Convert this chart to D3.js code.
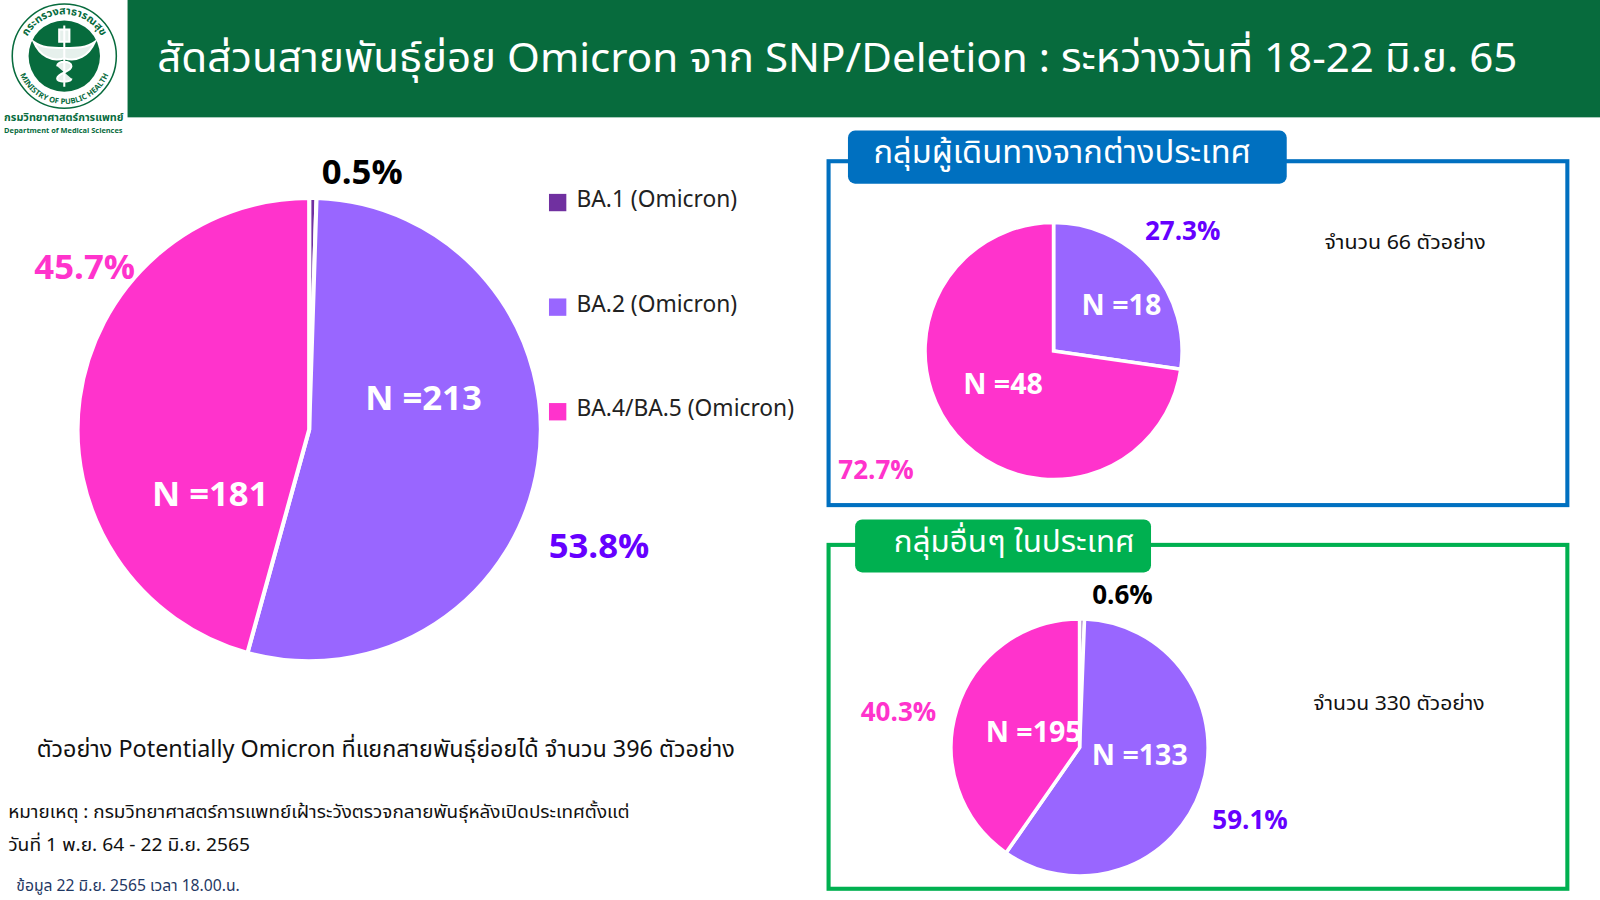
<!DOCTYPE html>
<html>
<head>
<meta charset="utf-8">
<script src="https://cdn.jsdelivr.net/npm/d3@7"></script>
<style>
  html, body { margin: 0; padding: 0; background: #fff; }
  text { font-family: "Noto Sans Thai", "Noto Sans", "DejaVu Sans", "Open Sans", sans-serif; }
</style>
</head>
<body>
<div id="chart"></div>
<script>
var categories = ["BA.1 (Omicron)", "BA.2 (Omicron)", "BA.4/BA.5 (Omicron)"];
var mainValues = [2, 213, 181];
var travelValues = [0, 18, 48];
var localValues = [2, 195, 133];

var mainPercent = ["0.5%", "53.8%", "45.7%"];
var travelPercent = ["27.3%", "72.7%"];
var localPercent = ["0.6%", "59.1%", "40.3%"];

var mainCounts = ["N =213", "N =181"];
var travelCounts = ["N =18", "N =48"];
var localCounts = ["N =133", "N =195"];

var titleText = "สัดส่วนสายพันธุ์ย่อย Omicron จาก SNP/Deletion : ระหว่างวันที่ 18-22 มิ.ย. 65";
var travelTitle = "กลุ่มผู้เดินทางจากต่างประเทศ";
var localTitle = "กลุ่มอื่นๆ ในประเทศ";
var travelNote = "จำนวน 66 ตัวอย่าง";
var localNote = "จำนวน 330 ตัวอย่าง";
var sampleNote = "ตัวอย่าง Potentially Omicron ที่แยกสายพันธุ์ย่อยได้ จำนวน 396 ตัวอย่าง";
var remark1 = "หมายเหตุ :  กรมวิทยาศาสตร์การแพทย์เฝ้าระวังตรวจกลายพันธุ์หลังเปิดประเทศตั้งแต่";
var remark2 = "วันที่ 1 พ.ย. 64 -  22 มิ.ย. 2565";
var dataDate = "ข้อมูล 22 มิ.ย. 2565 เวลา 18.00.น.";

var color = d3.scaleOrdinal().domain(categories).range(["#7030a0", "#9966ff", "#ff33cc"]);
var PINK = "#ff33cc", VIOLET = "#6600ff", GREEN = "#076b3d";

var svg = d3.select("#chart").append("svg")
  .attr("width", 1600)
  .attr("height", 900)
  .attr("viewBox", "0 0 1568 882")
  .style("display", "block");

function label(x, y, str, size, fill, weight, anchor) {
  return svg.append("text")
    .attr("x", x).attr("y", y)
    .attr("font-size", size)
    .attr("fill", fill)
    .attr("font-weight", weight || "normal")
    .attr("text-anchor", anchor || "start")
    .text(str);
}

// stretch a line of text to the width it has in the picture
function fit(sel, width) {
  return sel.attr("textLength", width).attr("lengthAdjust", "spacingAndGlyphs");
}

function drawPie(values, cx, cy, r, strokeW) {
  var pie = d3.pie().sort(null)
    .value(function(d) { return d.value; });
  var arc = d3.arc().innerRadius(0).outerRadius(r);
  var rows = categories.map(function(c, i) { return { name: c, value: values[i] }; });

  svg.append("g")
    .attr("transform", "translate(" + cx + "," + cy + ")")
    .selectAll("path")
    .data(pie(rows))
    .join("path")
    .attr("d", arc)
    .attr("fill", function(d) { return color(d.data.name); })
    .attr("stroke", "#fff")
    .attr("stroke-width", strokeW);
}

// header
svg.append("rect").attr("x", 125).attr("y", 0).attr("width", 1443).attr("height", 115).attr("fill", GREEN);
fit(label(154, 71, titleText, 39.5, "#fff"), 1333);

// logo
var logo = svg.append("g").attr("transform", "translate(63,55)");
logo.append("circle").attr("r", 51).attr("fill", "#fff").attr("stroke", GREEN).attr("stroke-width", 1.5);
logo.append("circle").attr("r", 35).attr("fill", GREEN);
logo.append("path").attr("id", "logoTop").attr("d", "M-41,0A41,41 0 0 1 41,0").attr("fill", "none");
logo.append("path").attr("id", "logoBottom").attr("d", "M-47,0A47,47 0 0 0 47,0").attr("fill", "none");
logo.append("text").attr("font-size", 10.5).attr("font-weight", "bold").attr("fill", GREEN)
  .append("textPath").attr("href", "#logoTop").attr("startOffset", "50%").attr("text-anchor", "middle")
  .text("กระทรวงสาธารณสุข");
logo.append("text").attr("font-size", 7.5).attr("font-weight", "bold").attr("fill", GREEN)
  .append("textPath").attr("href", "#logoBottom").attr("startOffset", "50%").attr("text-anchor", "middle")
  .text("MINISTRY OF PUBLIC HEALTH");
logo.append("path")
  .attr("d", "M0,-30V30M-30,-14C-24,0 -12,6 0,2C12,6 24,0 30,-14C22,-8 12,-8 0,-8C-12,-8 -22,-8 -30,-14ZM-7,10C-7,4 7,4 7,10C7,16 -7,16 -7,22C-7,26 7,26 7,22M-5,-26H5V-14H-5Z")
  .attr("fill", "#fff").attr("stroke", "#fff").attr("stroke-width", 2).attr("fill-opacity", 0.9);
fit(label(4, 119, "กรมวิทยาศาสตร์การแพทย์", 9.5, GREEN, "bold"), 117);
fit(label(4, 130, "Department of Medical Sciences", 7, GREEN, "bold"), 116);

// main pie
drawPie(mainValues, 303, 421, 227, 4);
label(355, 180, mainPercent[0], 34, "#000", "bold", "middle");
label(587, 547, mainPercent[1], 34, VIOLET, "bold", "middle");
label(83, 273, mainPercent[2], 34, PINK, "bold", "middle");
label(415, 402, mainCounts[0], 34, "#fff", "bold", "middle");
label(206, 496, mainCounts[1], 34, "#fff", "bold", "middle");

// legend
svg.append("g").selectAll("rect")
  .data(categories)
  .join("rect")
  .attr("x", 538)
  .attr("y", function(d, i) { return 190 + i * 102.5; })
  .attr("width", 17).attr("height", 17)
  .attr("fill", function(d) { return color(d); });
categories.forEach(function(c, i) {
  label(565, 203 + i * 102.3, c, 22.3, "#222");
});

fit(label(36, 742, sampleNote, 22.5, "#111"), 684);
fit(label(8, 802, remark1, 18, "#111"), 609);
fit(label(8, 834, remark2, 18, "#111"), 237);
fit(label(16, 873, dataDate, 15.5, "#1f3864"), 219);

// traveller panel
svg.append("rect").attr("x", 812).attr("y", 158).attr("width", 724).attr("height", 337)
  .attr("fill", "none").attr("stroke", "#0070c0").attr("stroke-width", 4);
svg.append("rect").attr("x", 831).attr("y", 128).attr("width", 430).attr("height", 52).attr("rx", 7)
  .attr("fill", "#0070c0");
fit(label(856, 160, travelTitle, 31, "#fff"), 370);
drawPie(travelValues, 1032.5, 344, 126, 3.5);
label(1159, 235, travelPercent[0], 25.5, VIOLET, "bold", "middle");
label(858.5, 469, travelPercent[1], 25.5, PINK, "bold", "middle");
label(1099, 309, travelCounts[0], 28, "#fff", "bold", "middle");
label(983, 386, travelCounts[1], 28, "#fff", "bold", "middle");
fit(label(1298, 244, travelNote, 19, "#111"), 158);

// local panel
svg.append("rect").attr("x", 812).attr("y", 534).attr("width", 724).attr("height", 337)
  .attr("fill", "none").attr("stroke", "#00b050").attr("stroke-width", 4);
svg.append("rect").attr("x", 838).attr("y", 509).attr("width", 290).attr("height", 52).attr("rx", 7)
  .attr("fill", "#00b050");
fit(label(876, 541, localTitle, 29, "#fff"), 236);
drawPie(localValues, 1058, 732.5, 126, 3.5);
label(1100, 592, localPercent[0], 25.5, "#000", "bold", "middle");
label(1225, 812, localPercent[1], 25.5, VIOLET, "bold", "middle");
label(880.5, 707, localPercent[2], 25.5, PINK, "bold", "middle");
label(1117, 750, localCounts[0], 28, "#fff", "bold", "middle");
label(1013, 727, localCounts[1], 28, "#fff", "bold", "middle");
fit(label(1287, 696, localNote, 19, "#111"), 168);
</script>
</body>
</html>
